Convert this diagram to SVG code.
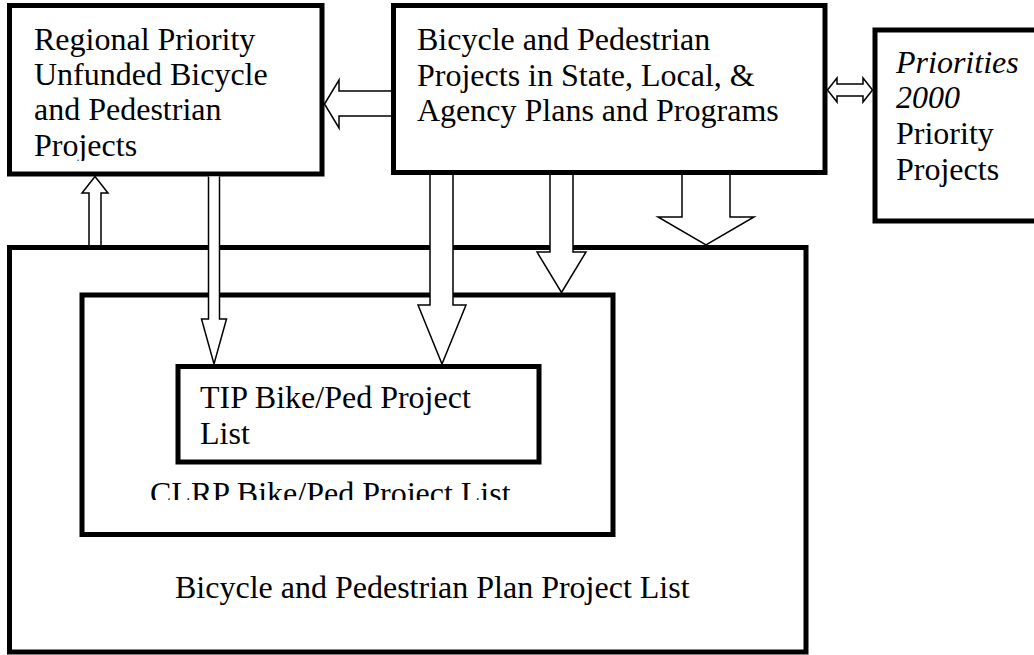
<svg xmlns="http://www.w3.org/2000/svg" width="1034" height="655" viewBox="0 0 1034 655">
<style>
.box{fill:none;stroke:#000;stroke-width:5}
.t{font-family:"Liberation Serif","Times New Roman",serif;font-size:32px;fill:#000}
.i{font-style:italic}
.arr{fill:#fff;stroke:#000;stroke-width:1.5;stroke-linejoin:miter}
</style>
<defs>
<clipPath id="clipP"><rect x="0" y="0" width="400" height="161"/></clipPath>
<clipPath id="clipC"><rect x="0" y="0" width="700" height="500"/></clipPath>
</defs>
<rect width="1034" height="655" fill="#fff"/>
<g id="plan">
<rect class="box" x="9.5" y="247.5" width="796.5" height="404.5"/>
<text class="t" x="175" y="598">Bicycle and Pedestrian Plan Project List</text>
</g>
<g id="clrp">
<rect class="box" x="82" y="295" width="531" height="239.5"/>
<text class="t" x="150" y="504" clip-path="url(#clipC)">CLRP Bike/Ped Project List</text>
</g>
<g id="tip">
<rect class="box" x="178" y="366.5" width="361" height="95.5"/>
<text class="t" x="200" y="408">TIP Bike/Ped Project</text>
<text class="t" x="200" y="444">List</text>
</g>
<g id="regional">
<rect class="box" x="9.5" y="5.5" width="312.5" height="168.5"/>
<text class="t" x="34" y="50">Regional Priority</text>
<text class="t" x="34" y="85">Unfunded Bicycle</text>
<text class="t" x="34" y="120">and Pedestrian</text>
<text class="t" x="34" y="156" clip-path="url(#clipP)">Projects</text>
</g>
<g id="plans">
<rect class="box" x="393.5" y="5.5" width="431.5" height="167"/>
<text class="t" x="417" y="50">Bicycle and Pedestrian</text>
<text class="t" x="417" y="86">Projects in State, Local, &amp;</text>
<text class="t" x="417" y="121">Agency Plans and Programs</text>
</g>
<g id="priorities">
<rect class="box" x="875" y="30" width="170" height="191"/>
<text class="t i" x="896" y="73">Priorities</text>
<text class="t i" x="896" y="108">2000</text>
<text class="t" x="896" y="144">Priority</text>
<text class="t" x="896" y="180">Projects</text>
</g>
<g id="connectors">
<path class="arr" d="M391,91 L339,91 L339,80 L324.5,104 L339,128 L339,116 L391,116"/>
<path class="arr" d="M89,245 L89,193 L82,193 L95,176.5 L108,193 L101,193 L101,245"/>
<path class="arr" d="M219.5,176.5 L219.5,319 L226.5,319 L214,364 L201.5,319 L208.5,319 L208.5,176.5"/>
<path class="arr" d="M453,175 L453,305 L466,305 L442,364 L418,305 L430,305 L430,175"/>
<path class="arr" d="M573,175 L573,252 L586,252 L561.5,292.5 L537,252 L550,252 L550,175"/>
<path class="arr" d="M730,175 L730,217 L754,217 L706,245 L658,217 L682,217 L682,175"/>
<path class="arr" d="M827.5,90 L837,78 L837,84 L863,84 L863,78 L872.5,90 L863,102 L863,96 L837,96 L837,102 Z"/>
</g>
</svg>
